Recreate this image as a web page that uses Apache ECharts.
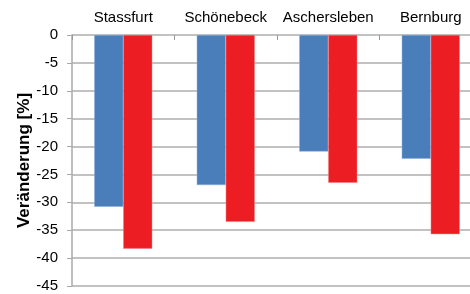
<!DOCTYPE html>
<html>
<head>
<meta charset="utf-8">
<script src="https://cdn.jsdelivr.net/npm/echarts@6/dist/echarts.min.js"></script>
<style>
  html, body { margin: 0; padding: 0; background: #fff; overflow: hidden; width: 470px; height: 294px; }
  #chart { width: 482px; height: 294px; }
</style>
</head>
<body>
<div id="chart"></div>
<script>
const categories = ['Stassfurt', 'Schönebeck', 'Aschersleben', 'Bernburg'];
const blueValues = [-30.8, -26.9, -20.9, -22.2];
const redValues = [-38.3, -33.5, -26.5, -35.7];

// the plot runs past the right edge of the picture, so the canvas is a bit wider than the window
const chart = echarts.init(document.getElementById('chart'));

chart.setOption({
    animation: false,
    grid: { left: 72, right: 0, top: 35, bottom: 8 },
    xAxis: {
        type: 'category',
        data: categories,
        position: 'top',
        axisLine: { show: false },
        axisTick: { show: true, inside: true, length: 5, interval: 0, lineStyle: { color: '#999' } },
        axisLabel: { interval: 0, color: '#000', fontSize: 15, fontFamily: 'Liberation Sans', margin: 10 }
    },
    yAxis: {
        type: 'value',
        min: -45,
        max: 0,
        interval: 5,
        name: 'Veränderung [%]',
        nameLocation: 'middle',
        nameGap: 39,
        nameMoveOverlap: false,
        nameTextStyle: { color: '#000', fontSize: 17, fontWeight: 'bold', fontFamily: 'Liberation Sans' },
        axisLine: { show: true, lineStyle: { color: '#aaa', width: 1.5 } },
        axisTick: { show: true, length: 5, lineStyle: { color: '#aaa' } },
        axisLabel: { color: '#000', fontSize: 15, fontFamily: 'Liberation Sans', margin: 14 },
        splitLine: { lineStyle: { color: '#aeaeae', width: 1.5 } }
    },
    series: [
        {
            type: 'bar',
            data: blueValues,
            barWidth: 29,
            barGap: '0%',
            itemStyle: { color: '#4a7ebb', borderColor: '#8db0dd', borderWidth: 0.5 }
        },
        {
            type: 'bar',
            data: redValues,
            barWidth: 29,
            itemStyle: { color: '#ed1d24', borderColor: '#f47a7e', borderWidth: 0.5 }
        }
    ]
});
</script>
</body>
</html>
